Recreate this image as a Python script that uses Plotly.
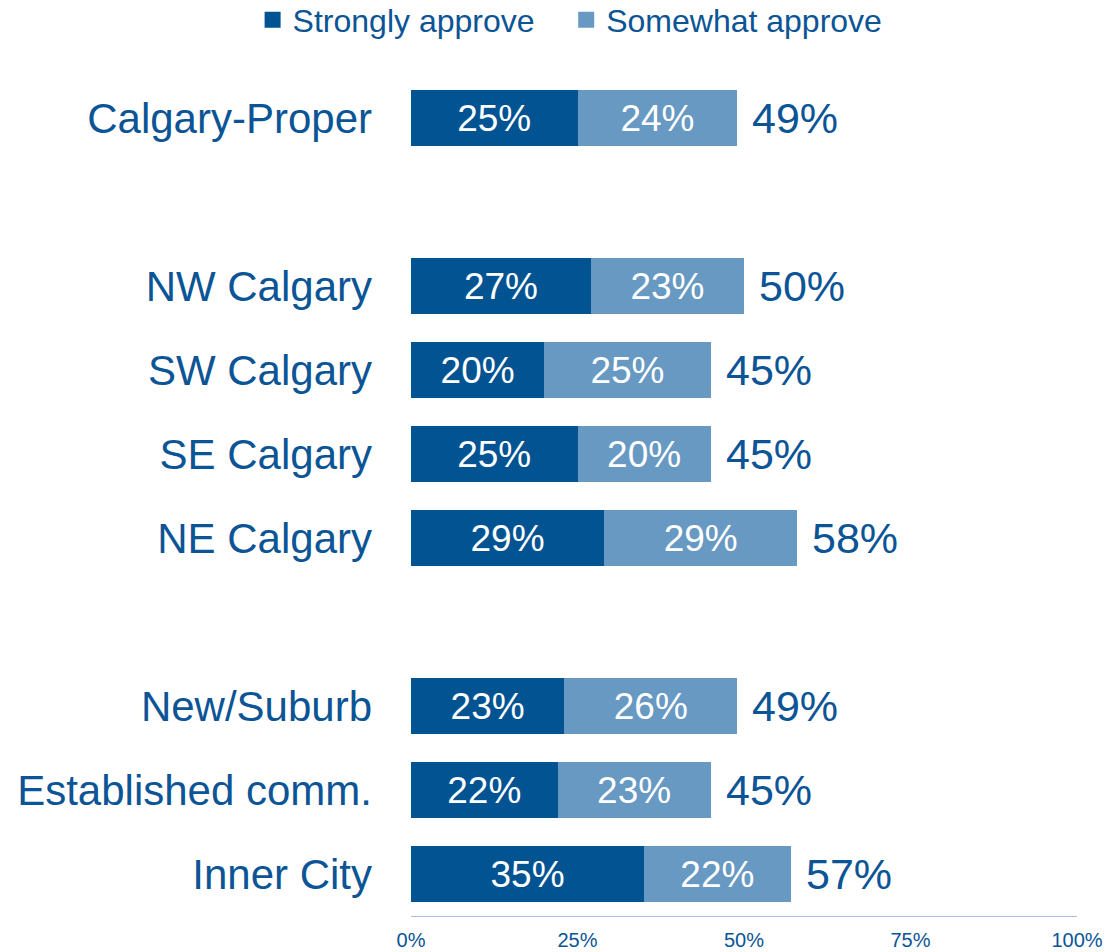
import plotly.graph_objects as go

categories = ["Calgary-Proper", "NW Calgary", "SW Calgary", "SE Calgary",
              "NE Calgary", "New/Suburb", "Established comm.", "Inner City"]
strongly = [25, 27, 20, 25, 29, 23, 22, 35]
somewhat = [24, 23, 25, 20, 29, 26, 23, 22]
totals = [49, 50, 45, 45, 58, 49, 45, 57]
series_names = ["Strongly approve", "Somewhat approve"]
x_ticks = [0, 25, 50, 75, 100]

# slot positions (blank slots separate the groups)
slots = [0, 2, 3, 4, 5, 7, 8, 9]

DARK = "#025392"
LIGHT = "#6799c2"
TXT = "#0b5495"
FONT = "Liberation Sans, Arial, sans-serif"

fig = go.Figure()
pads = ["\u00a0\u00a0\u00a0", ""]  # extra spacing between legend items
for name, vals, col, pad in [(series_names[0], strongly, DARK, pads[0]),
                             (series_names[1], somewhat, LIGHT, pads[1])]:
    fig.add_trace(go.Bar(
        y=slots, x=vals, orientation="h", name=name,
        marker=dict(color=col, line=dict(width=0)),
        text=[f"{v}%" for v in vals], textposition="inside",
        insidetextanchor="middle", textangle=0,
        textfont=dict(color="white", size=37, family=FONT),
        showlegend=False, hoverinfo="skip", legendgroup=name,
    ))
    fig.add_trace(go.Scatter(
        x=[None], y=[None], mode="markers", name=name + pad, legendgroup=name,
        marker=dict(symbol="square", size=16, color=col),
    ))

for s, t in zip(slots, totals):
    fig.add_annotation(x=t, y=s, text=f"{t}%", showarrow=False,
                       xanchor="left", yanchor="middle", xshift=13,
                       font=dict(size=43, color=TXT, family=FONT))

fig.update_layout(
    barmode="stack", bargap=0.333,
    width=1107, height=952,
    margin=dict(l=411, r=30, t=76, b=36, autoexpand=False),
    plot_bgcolor="white", paper_bgcolor="white",
    font=dict(family=FONT, color=TXT),
    legend=dict(orientation="h", xref="container", yref="container",
                x=0.515, xanchor="center", y=0.979, yanchor="middle",
                font=dict(size=32, color=TXT, family=FONT),
                itemwidth=30, tracegroupgap=0),
    xaxis=dict(range=[0, 100], tickvals=x_ticks,
               ticktext=[f"{v}%" for v in x_ticks], automargin=False,
               showgrid=False, zeroline=False, showline=True,
               linecolor="#a9c0e3", linewidth=1, ticks="",
               tickfont=dict(size=20, color=TXT, family=FONT),
               ticklabelstandoff=6),
    yaxis=dict(range=[9.5, -0.5], tickvals=slots, ticktext=categories,
               automargin=False,
               showgrid=False, zeroline=False, showline=False, ticks="",
               tickfont=dict(size=42, color=TXT, family=FONT),
               ticklabelstandoff=38),
)

fig.write_html("out.html", config={"displayModeBar": False},
               post_script="document.body.style.margin='0';document.body.style.overflow='hidden';")
